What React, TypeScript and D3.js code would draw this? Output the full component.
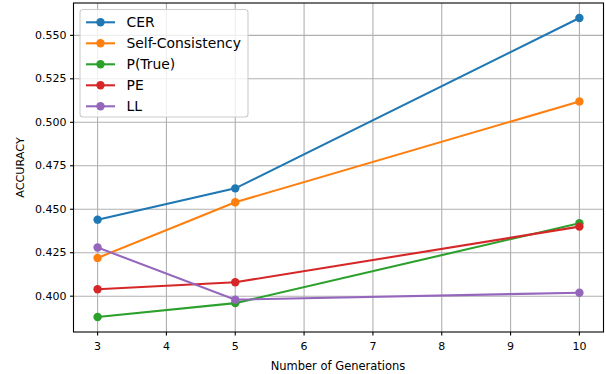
import React, { useEffect, useRef } from 'react';
import * as d3 from 'd3';

// data
const generations = [3, 5, 10];
const seriesNames = ['CER', 'Self-Consistency', 'P(True)', 'PE', 'LL'];
const cerValues = [0.444, 0.462, 0.56];
const selfConsistencyValues = [0.422, 0.454, 0.512];
const pTrueValues = [0.388, 0.396, 0.442];
const peValues = [0.404, 0.408, 0.44];
const llValues = [0.428, 0.398, 0.402];
const xTicks = [3, 4, 5, 6, 7, 8, 9, 10];
const yTicks = [0.4, 0.425, 0.45, 0.475, 0.5, 0.525, 0.55];
const colors = ['#1f77b4', '#ff7f0e', '#2ca02c', '#d62728', '#9467bd'];

const App = () => {
  const svgRef = useRef<SVGSVGElement>(null);
  const width = 606;
  const height = 374;
  const margin = { left: 73.5, right: 2.5, top: 3, bottom: 42 };

  useEffect(() => {
    const svg = d3.select(svgRef.current);
    svg.selectAll('*').remove();

    const allValues = [cerValues, selfConsistencyValues, pTrueValues, peValues, llValues];
    const yMin = d3.min(allValues.flat()) as number;
    const yMax = d3.max(allValues.flat()) as number;
    const yPad = (yMax - yMin) * 0.05;

    const x = d3.scaleLinear()
      .domain([2.65, 10.35])
      .range([margin.left, width - margin.right]);
    const y = d3.scaleLinear()
      .domain([yMin - yPad, yMax + yPad])
      .range([height - margin.bottom, margin.top]);

    const font = 'DejaVu Sans, sans-serif';
    const g = svg.append('g');

    // grid
    g.selectAll('.vgrid').data(xTicks).enter().append('line')
      .attr('x1', d => x(d)).attr('x2', d => x(d))
      .attr('y1', margin.top).attr('y2', height - margin.bottom)
      .attr('stroke', '#b0b0b0').attr('stroke-width', 1.1);
    g.selectAll('.hgrid').data(yTicks).enter().append('line')
      .attr('y1', d => y(d)).attr('y2', d => y(d))
      .attr('x1', margin.left).attr('x2', width - margin.right)
      .attr('stroke', '#b0b0b0').attr('stroke-width', 1.1);

    // series
    const line = d3.line<number>()
      .x((d, i) => x(generations[i]))
      .y(d => y(d));
    allValues.forEach((vals, k) => {
      g.append('path')
        .attr('d', line(vals) as string)
        .attr('fill', 'none')
        .attr('stroke', colors[k])
        .attr('stroke-width', 2.08);
      g.selectAll('.m' + k).data(vals).enter().append('circle')
        .attr('cx', (d, i) => x(generations[i]))
        .attr('cy', d => y(d))
        .attr('r', 4.2)
        .attr('fill', colors[k]);
    });

    // spines
    g.append('rect')
      .attr('x', margin.left).attr('y', margin.top)
      .attr('width', width - margin.left - margin.right)
      .attr('height', height - margin.top - margin.bottom)
      .attr('fill', 'none').attr('stroke', '#000').attr('stroke-width', 1.1);

    // x ticks
    const bottom = height - margin.bottom;
    xTicks.forEach(t => {
      g.append('line')
        .attr('x1', x(t)).attr('x2', x(t))
        .attr('y1', bottom).attr('y2', bottom + 3.5)
        .attr('stroke', '#000').attr('stroke-width', 1.1);
      g.append('text')
        .attr('x', x(t)).attr('y', bottom + 18)
        .attr('text-anchor', 'middle')
        .attr('font-family', font).attr('font-size', 11)
        .text(String(t));
    });
    // y ticks
    yTicks.forEach(t => {
      g.append('line')
        .attr('x1', margin.left - 3.5).attr('x2', margin.left)
        .attr('y1', y(t)).attr('y2', y(t))
        .attr('stroke', '#000').attr('stroke-width', 1.1);
      g.append('text')
        .attr('x', margin.left - 7).attr('y', y(t))
        .attr('text-anchor', 'end')
        .attr('dominant-baseline', 'central')
        .attr('font-family', font).attr('font-size', 11)
        .text(d3.format('.3f')(t));
    });

    // axis labels
    g.append('text')
      .attr('x', 338).attr('y', 369.5)
      .attr('text-anchor', 'middle')
      .attr('font-family', font).attr('font-size', 11.5)
      .text('Number of Generations');
    g.append('text')
      .attr('transform', `translate(23.5,${(margin.top + height - margin.bottom) / 2}) rotate(-90)`)
      .attr('text-anchor', 'middle')
      .attr('font-family', font).attr('font-size', 11.2)
      .text('ACCURACY');

    // legend
    const legend = g.append('g');
    legend.append('rect')
      .attr('x', 80).attr('y', 9.5)
      .attr('width', 168).attr('height', 107.5)
      .attr('rx', 3)
      .attr('fill', 'white').attr('fill-opacity', 0.8)
      .attr('stroke', '#cccccc').attr('stroke-width', 1.1);
    seriesNames.forEach((name, k) => {
      const ly = 22.3 + k * 21;
      legend.append('line')
        .attr('x1', 86).attr('x2', 115)
        .attr('y1', ly).attr('y2', ly)
        .attr('stroke', colors[k]).attr('stroke-width', 2.08);
      legend.append('circle')
        .attr('cx', 100.5).attr('cy', ly).attr('r', 4.2)
        .attr('fill', colors[k]);
      legend.append('text')
        .attr('x', 126.5).attr('y', ly)
        .attr('dominant-baseline', 'central')
        .attr('font-family', font).attr('font-size', 13.9)
        .text(name);
    });
  });

  return (
    <svg ref={svgRef} width={width} height={height}
      style={{ position: 'absolute', left: 0, top: 0, background: '#fff' }} />
  );
};

export default App;
